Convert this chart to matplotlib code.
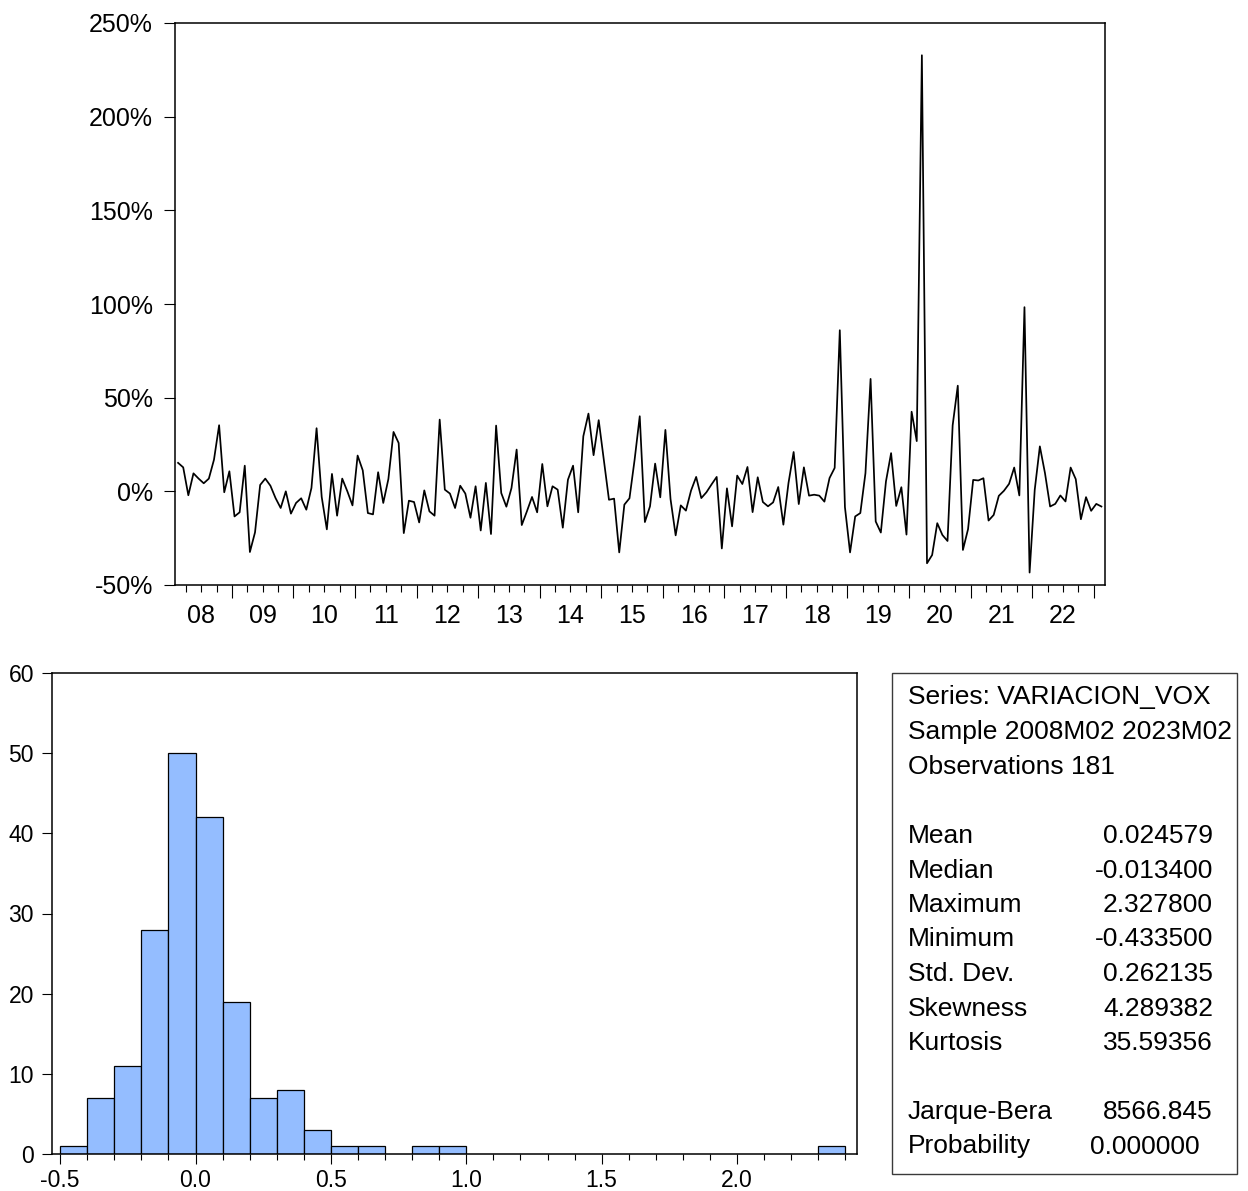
import matplotlib
matplotlib.use("Agg")
import matplotlib.pyplot as plt
import numpy as np
from matplotlib.patches import Rectangle

plt.rcParams['font.family'] = ['Liberation Sans', 'DejaVu Sans']

# ---------------- data ----------------
series_name = "VARIACION_VOX"
sample_text = "Sample 2008M02 2023M02"
start_year, start_month = 2008, 2

# monthly variation (percent), 2008M02 .. 2023M02
variacion_vox = [
    15.2, 12.8, -2.1, 9.6, 6.8, 4.3, 6.8, 16.9, 35.3, -0.5, 10.7,            # 2008
    -13.4, -11.2, 13.7, -32.4, -21.9, 3.4, 6.8, 3.0, -3.6, -8.9, 0.0, -11.9,  # 2009
    -6.2, -3.7, -9.8, 1.8, 33.7, -3.0, -20.3, 9.3, -13.0, 6.8, 0.0, -7.5,     # 2010
    19.1, 11.2, -11.6, -12.3, 10.2, -6.2, 6.6, 31.7, 25.8, -22.3, -5.0, -5.7, # 2011
    -16.6, 0.5, -10.7, -13.0, 38.3, 0.9, -1.2, -8.9, 3.0, -1.2, -14.1, 2.7,   # 2012
    -20.9, 4.5, -22.8, 35.1, -0.9, -8.2, 1.8, 22.3, -18.0, -10.7, -3.0, -11.2,# 2013
    14.6, -8.0, 2.7, 0.9, -19.4, 6.2, 13.7, -11.2, 29.4, 41.5, 19.3, 38.0,    # 2014
    16.9, -4.5, -3.9, -32.6, -7.1, -3.7, 16.9, 40.1, -16.4, -8.0, 14.8, -3.2, # 2015
    32.8, -4.1, -23.5, -7.5, -10.3, 0.4, 7.7, -3.6, -0.5, 3.7, 7.7, -30.5,    # 2016
    1.6, -18.7, 8.4, 3.9, 13.0, -11.1, 7.5, -5.7, -8.0, -5.9, 2.3, -17.8,     # 2017
    4.5, 21.0, -6.8, 12.8, -2.3, -1.8, -2.3, -5.5, 7.1, 12.5, 86.0, -8.4,     # 2018
    -32.6, -13.4, -11.6, 9.7, 60.0, -16.1, -22.0, 5.3, 20.4, -7.8, 2.2, -23.1,# 2019
    42.5, 26.8, 232.78, -38.4, -34.0, -17.0, -23.3, -26.5, 35.2, 56.4, -31.3, -20.2, # 2020
    6.1, 5.8, 7.0, -15.6, -12.6, -2.4, 0.3, 4.0, 12.7, -2.2, 98.3, -43.35,    # 2021
    0.8, 24.0, 9.7, -8.1, -6.7, -2.2, -5.4, 12.7, 6.5, -14.9, -3.1, -10.4,    # 2022
    -6.7, -8.1,                                                               # 2023
]

y_ticks = [-50, 0, 50, 100, 150, 200, 250]
year_labels = ['08', '09', '10', '11', '12', '13', '14', '15',
               '16', '17', '18', '19', '20', '21', '22']

# histogram (bins of width 0.1 starting at -0.5)
bin_left = [round(-0.5 + 0.1 * i, 1) for i in range(29)]
bin_counts = [1, 7, 11, 28, 50, 42, 19, 7, 8, 3, 1, 1, 0, 1, 1,
              0, 0, 0, 0, 0, 0, 0, 0, 0, 0, 0, 0, 0, 1]
hist_xticks = [-0.5, 0.0, 0.5, 1.0, 1.5, 2.0]
hist_yticks = [0, 10, 20, 30, 40, 50, 60]

stat_labels = ['Mean', 'Median', 'Maximum', 'Minimum', 'Std. Dev.', 'Skewness', 'Kurtosis']
stat_values = ['0.024579', '-0.013400', '2.327800', '-0.433500', '0.262135', '4.289382', '35.59356']
test_labels = ['Jarque-Bera', 'Probability']
test_values = ['8566.845', '0.000000']
n_obs = 181

# ---------------- figure ----------------
W, H = 1248, 1191
fig = plt.figure(figsize=(W / 100, H / 100), dpi=100)
fig.patch.set_facecolor('white')

def fbox(l, t, r, b):
    return [l / W, 1 - b / H, (r - l) / W, (b - t) / H]

# ---- top: time series ----
ax = fig.add_axes(fbox(175, 23, 1105, 585))
x = np.arange(len(variacion_vox))
ax.plot(x, variacion_vox, color='black', lw=1.25)
ax.set_xlim(-0.6, len(variacion_vox) - 0.3)
ax.set_ylim(-50, 250)

ax.set_yticks(y_ticks)
ax.set_yticklabels([f'{v}%' for v in y_ticks])
ax.tick_params(axis='y', direction='out', length=8, width=0.8, pad=8, labelsize=18)

# boundaries between months: year starts and quarter starts
first_jan = (12 - start_month + 1) - 0.5
year_bounds = [first_jan + 12 * i for i in range(len(year_labels))]
quarter_bounds = [b for b in np.arange(first_jan - 9, len(variacion_vox), 3.0)]
mid_years = {round(first_jan - 6 + 12 * i, 1): lab for i, lab in enumerate(year_labels)}
ax.set_xticks(year_bounds)
ax.set_xticklabels([''] * len(year_bounds))
ax.set_xticks(quarter_bounds, minor=True)
ax.set_xticklabels([mid_years.get(round(q, 1), '') for q in quarter_bounds], minor=True)
ax.tick_params(axis='x', which='major', direction='out', length=9, width=0.8)
ax.tick_params(axis='x', which='minor', direction='out', length=4.8, width=0.8,
               pad=9, labelsize=18)
for s in ax.spines.values():
    s.set_linewidth(1.1)

# ---- bottom: histogram ----
ax2 = fig.add_axes(fbox(52, 673, 857, 1154))
lefts = np.array(bin_left)
counts = np.array(bin_counts)
mask = counts > 0
ax2.bar(lefts[mask], counts[mask], width=0.1, align='edge',
        color='#94bdff', edgecolor='black', linewidth=0.9)
ax2.set_xlim(-0.53, 2.443)
ax2.set_ylim(0, 60)
ax2.set_xticks(hist_xticks)
ax2.set_xticklabels([f'{v:.1f}' for v in hist_xticks])
ax2.set_xticks(bin_left + [2.4], minor=True)
ax2.set_yticks(hist_yticks)
ax2.tick_params(axis='x', which='major', direction='out', length=7, width=0.8, pad=4, labelsize=16.5)
ax2.tick_params(axis='x', which='minor', direction='out', length=4.3, width=0.8)
ax2.tick_params(axis='y', direction='out', length=7, width=0.8, pad=6, labelsize=16.5)
for s in ax2.spines.values():
    s.set_linewidth(1.1)

# ---- stats box ----
fig.patches.append(Rectangle((892 / W, 1 - 1174 / H), (1237 - 892) / W, (1174 - 673) / H,
                             transform=fig.transFigure, fill=False,
                             edgecolor='#3a3a3a', linewidth=1.0))
fs = 19
lx = 908 / W
rx = 1213 / W

def fy(y):
    return 1 - y / H

fig.text(lx, fy(697), f'Series: {series_name}', fontsize=fs, va='center', ha='left')
fig.text(lx, fy(732), sample_text, fontsize=fs, va='center', ha='left')
fig.text(lx, fy(767), f'Observations {n_obs}', fontsize=fs, va='center', ha='left')
step = 34.5
for i, (lab, val) in enumerate(zip(stat_labels, stat_values)):
    yy = 836 + i * step
    fig.text(lx, fy(yy), lab, fontsize=fs, va='center', ha='left')
    fig.text(rx, fy(yy), val, fontsize=fs, va='center', ha='right')
test_right = [1213, 1200]
for i, (lab, val) in enumerate(zip(test_labels, test_values)):
    yy = 1112 + i * step
    fig.text(lx, fy(yy), lab, fontsize=fs, va='center', ha='left')
    fig.text(test_right[i] / W, fy(yy), val, fontsize=fs, va='center', ha='right')

fig.savefig('out.png', dpi=100, facecolor='white')
